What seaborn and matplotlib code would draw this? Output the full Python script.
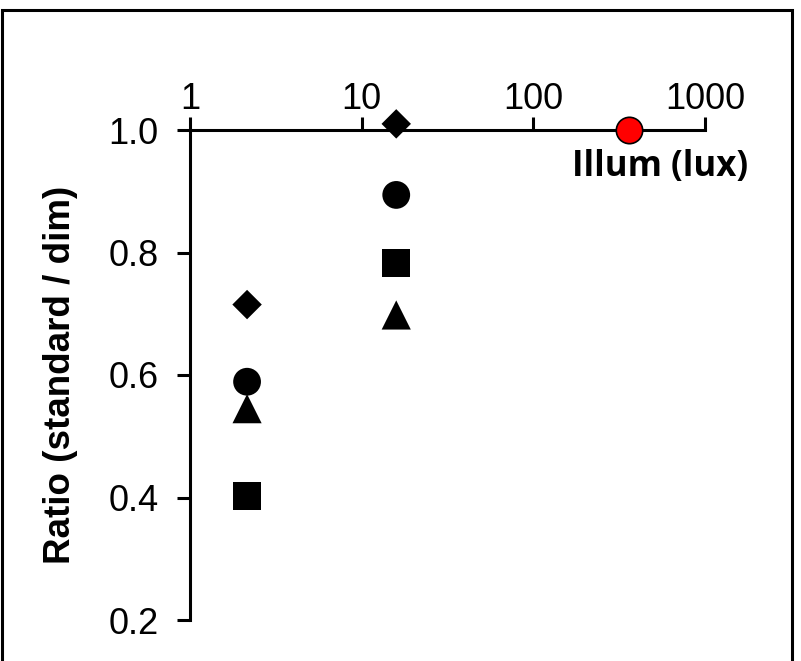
import matplotlib
matplotlib.use("Agg")
import matplotlib.pyplot as plt
import matplotlib.patches as patches
from matplotlib.ticker import FixedLocator, NullLocator
import pandas as pd
import seaborn as sns

# data
illum = [2.15, 15.9]
diamond_vals = [0.715, 1.01]
circle_vals = [0.589, 0.894]
square_vals = [0.402, 0.783]
triangle_vals = [0.545, 0.698]
ref_illum = [362]
ref_ratio = [1.0]

x_ticks = [1, 10, 100, 1000]
x_labels = ["1", "10", "100", "1000"]
y_ticks = [0.2, 0.4, 0.6, 0.8, 1.0]

sns.set_style("ticks")
plt.rcParams["font.family"] = ["Liberation Sans", "DejaVu Sans"]
plt.rcParams["text.color"] = "black"
plt.rcParams["axes.labelcolor"] = "black"
plt.rcParams["xtick.color"] = "black"
plt.rcParams["ytick.color"] = "black"

fig = plt.figure(figsize=(8.01, 6.61), dpi=100)
ax = fig.add_axes([190 / 801, 1 - 620 / 661, 515 / 801, 490 / 661])

series = [
    (diamond_vals, "D", 15 ** 2),
    (circle_vals, "o", 20 ** 2),
    (square_vals, "s", 20 ** 2),
    (triangle_vals, "^", 21 ** 2),
]
for vals, mk, sz in series:
    df = pd.DataFrame({"illum": illum, "ratio": vals})
    sns.scatterplot(data=df, x="illum", y="ratio", marker=mk, s=sz,
                    color="black", edgecolor="none", ax=ax, clip_on=False, zorder=3)

ref = pd.DataFrame({"illum": ref_illum, "ratio": ref_ratio})
sns.scatterplot(data=ref, x="illum", y="ratio", marker="o", s=19 ** 2,
                color="red", edgecolor="black", linewidth=1.2, ax=ax,
                clip_on=False, zorder=4)

ax.set_xscale("log")
ax.set_xlim(1, 1000)
ax.set_ylim(0.2, 1.0)

ax.xaxis.set_major_locator(FixedLocator(x_ticks))
ax.xaxis.set_minor_locator(NullLocator())
ax.set_xticklabels(x_labels)
ax.set_yticks(y_ticks)
ax.set_yticklabels([f"{v:.1f}" for v in y_ticks])

ax.xaxis.tick_top()
ax.spines["bottom"].set_visible(False)
ax.spines["right"].set_visible(False)
for s in ["top", "left"]:
    ax.spines[s].set_linewidth(2.2)
    ax.spines[s].set_color("black")
ax.tick_params(axis="both", which="major", direction="out", length=9.5,
               width=2.2, labelsize=26, colors="black")
ax.tick_params(axis="x", pad=0)
ax.tick_params(axis="y", pad=13)

ax.set_xlabel("")
ax.set_ylabel("Ratio (standard / dim)", fontsize=26.5, fontweight="bold")
ax.yaxis.set_label_coords(-0.218, 0.5)
fig.text(748 / 801, 1 - 167 / 661, "Illum (lux)", ha="right", va="center",
         fontsize=25, fontweight="bold", family=["Open Sans", "DejaVu Sans"])

# outer frame of the picture
fig.patches.append(patches.Rectangle((1.5 / 801, -0.05), 790 / 801, 0.05 + 1 - 10 / 661,
                                     transform=fig.transFigure, fill=False,
                                     edgecolor="black", linewidth=2.2, clip_on=False))

fig.savefig("out.png", dpi=100)
